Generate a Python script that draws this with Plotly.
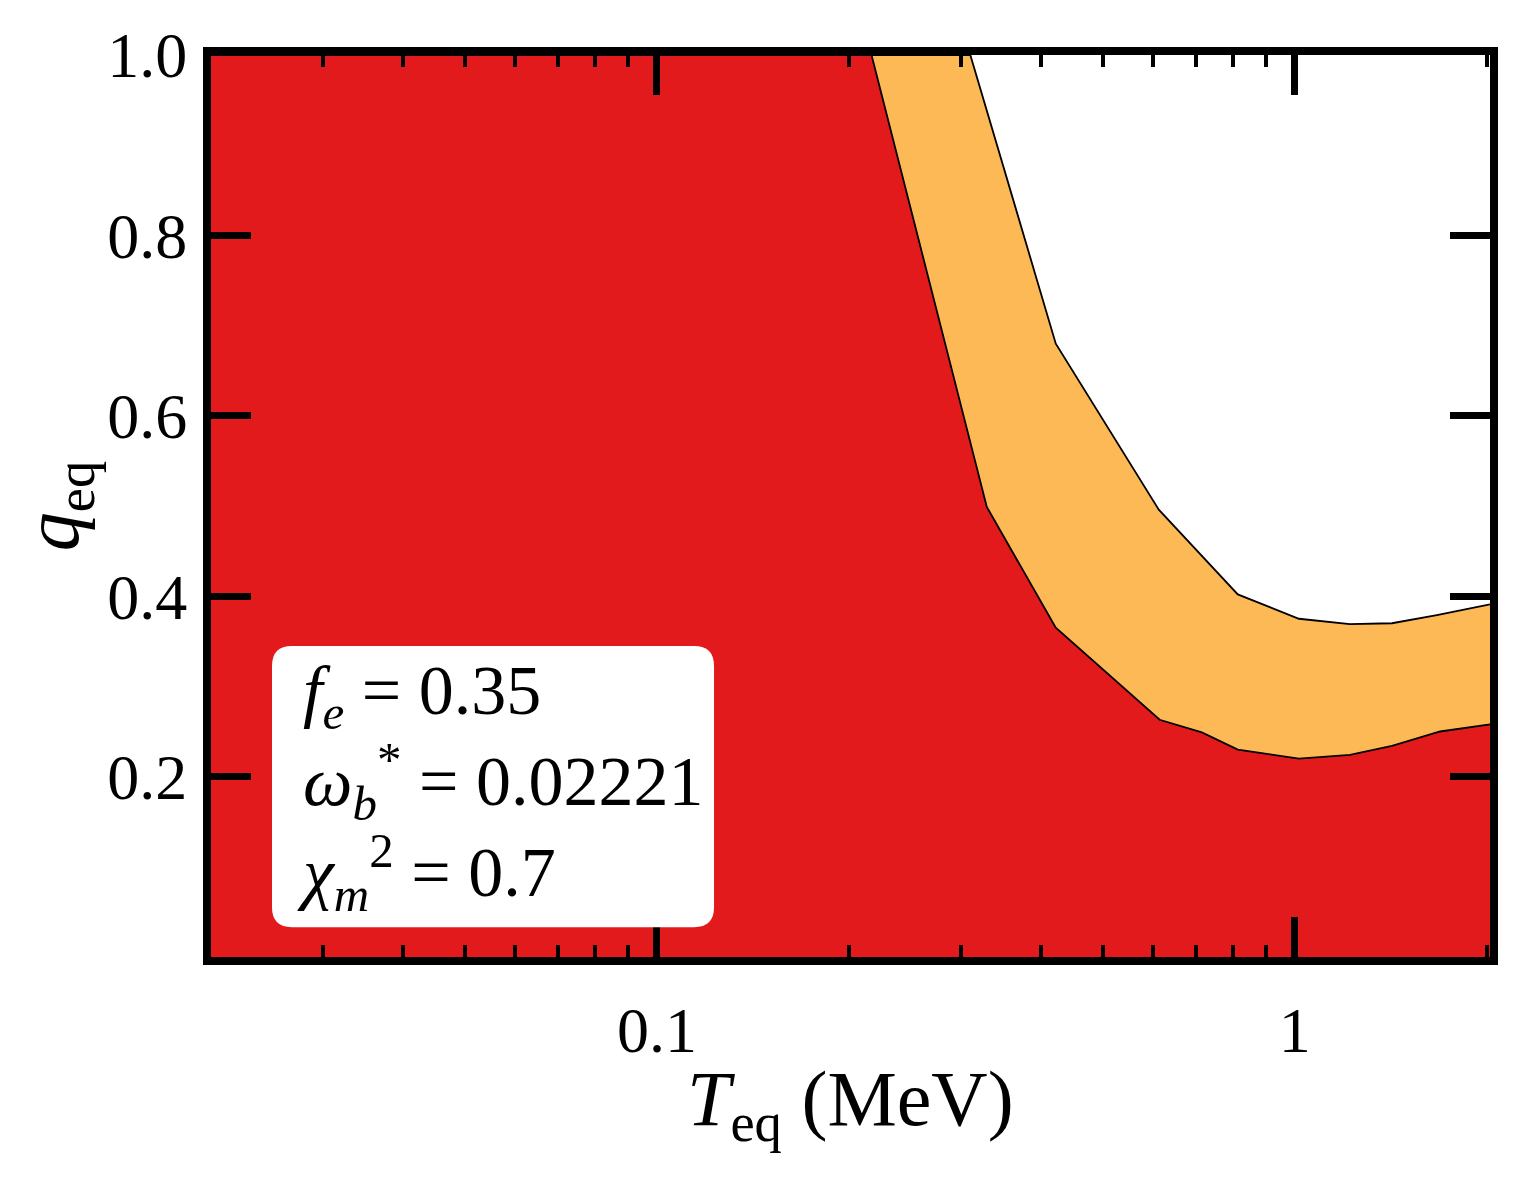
import numpy as np
import plotly.graph_objects as go

# ── data ────────────────────────────────────────────────────────────────────
# lower boundary (red region below it), T_eq in MeV
T_red = [0.02, 0.217, 0.329, 0.422, 0.614, 0.715, 0.814, 1.015, 1.22, 1.42, 1.69, 2.023]
q_red = [1.0, 1.0, 0.499, 0.365, 0.263, 0.249, 0.230, 0.220, 0.224, 0.234, 0.250, 0.258]

# upper boundary (orange band below it)
T_orange = [0.02, 0.310, 0.422, 0.612, 0.814, 1.015, 1.22, 1.42, 1.67, 2.023]
q_orange = [1.0, 1.0, 0.680, 0.496, 0.402, 0.375, 0.369, 0.370, 0.379, 0.391]

x_major = [0.1, 1]
x_major_text = ["0.1", "1"]
x_minor = [0.03, 0.04, 0.05, 0.06, 0.07, 0.08, 0.09,
           0.2, 0.3, 0.4, 0.5, 0.6, 0.7, 0.8, 0.9, 2]
y_ticks = [0.2, 0.4, 0.6, 0.8, 1.0]
y_tick_text = ["0.2", "0.4", "0.6", "0.8", "1.0"]

info_lines = [
    "<i>f</i><sub><i>e</i></sub> = 0.35",
    "<i>ω</i><sub><i>b</i></sub><sup>*</sup> = 0.02221",
    "<i>χ</i><sub><i>m</i></sub><sup>2</sup> = 0.7",
]

RED = "#e31a1c"
ORANGE = "#fdb956"
FONT = "Liberation Serif"

fig = go.Figure()
fig.add_trace(go.Scatter(
    x=T_orange, y=q_orange, mode="lines",
    line={"color": "black", "width": 1.8},
    fill="tozeroy", fillcolor=ORANGE, showlegend=False,
))
fig.add_trace(go.Scatter(
    x=T_red, y=q_red, mode="lines",
    line={"color": "black", "width": 1.8},
    fill="tozeroy", fillcolor=RED, showlegend=False,
))

axis_common = dict(
    showline=True, linecolor="black", linewidth=8, mirror="ticks",
    ticks="inside", tickcolor="black", tickwidth=7, ticklen=40,
    showgrid=False, zeroline=False,
    tickfont={"family": FONT, "size": 64, "color": "black"},
)

fig.update_xaxes(
    type="log", range=[np.log10(0.02), np.log10(2.023)],
    tickmode="array", tickvals=x_major, ticktext=x_major_text,
    minor={"tickmode": "array", "tickvals": x_minor, "ticks": "inside",
           "ticklen": 12, "tickwidth": 4, "tickcolor": "black"},
    ticklabelstandoff=10,
    **axis_common,
)
fig.update_yaxes(
    range=[0, 1], tickmode="array", tickvals=y_ticks, ticktext=y_tick_text,
    title={"text": "<i>q</i><sub>eq</sub>",
           "font": {"family": FONT, "size": 78, "color": "black"}, "standoff": 10},
    ticklabelstandoff=3,
    **axis_common,
)

# x-axis title as an annotation so it can sit exactly where the reference has it
fig.add_annotation(
    text="<i>T</i><sub>eq</sub> (MeV)", xref="paper", yref="paper",
    x=0.5, y=-0.163, xanchor="center", yanchor="middle", showarrow=False,
    font={"family": FONT, "size": 78, "color": "black"},
)

# rounded info box (paper coords)
x0, x1, y0, y1 = 0.0477, 0.3933, 0.0331, 0.3448
rx, ry = 0.0156, 0.0221
path = (f"M {x0+rx},{y0} L {x1-rx},{y0} Q {x1},{y0} {x1},{y0+ry} "
        f"L {x1},{y1-ry} Q {x1},{y1} {x1-rx},{y1} L {x0+rx},{y1} "
        f"Q {x0},{y1} {x0},{y1-ry} L {x0},{y0+ry} Q {x0},{y0} {x0+rx},{y0} Z")
fig.add_shape(type="path", path=path, xref="paper", yref="paper",
              fillcolor="white", line={"width": 0}, layer="above")
fig.add_annotation(
    text="<br>".join(info_lines), xref="paper", yref="paper",
    x=0.066, y=(y0 + y1) / 2, xanchor="left", yanchor="middle",
    align="left", showarrow=False,
    font={"family": FONT, "size": 70, "color": "black"},
)

# page body adds an 8px offset, margins compensate for it
fig.update_layout(
    width=1519, height=1179,
    margin={"l": 203, "r": 37, "t": 44, "b": 230},
    paper_bgcolor="white", plot_bgcolor="white",
    font={"family": FONT, "color": "black"},
)

fig.write_html("out.html")
